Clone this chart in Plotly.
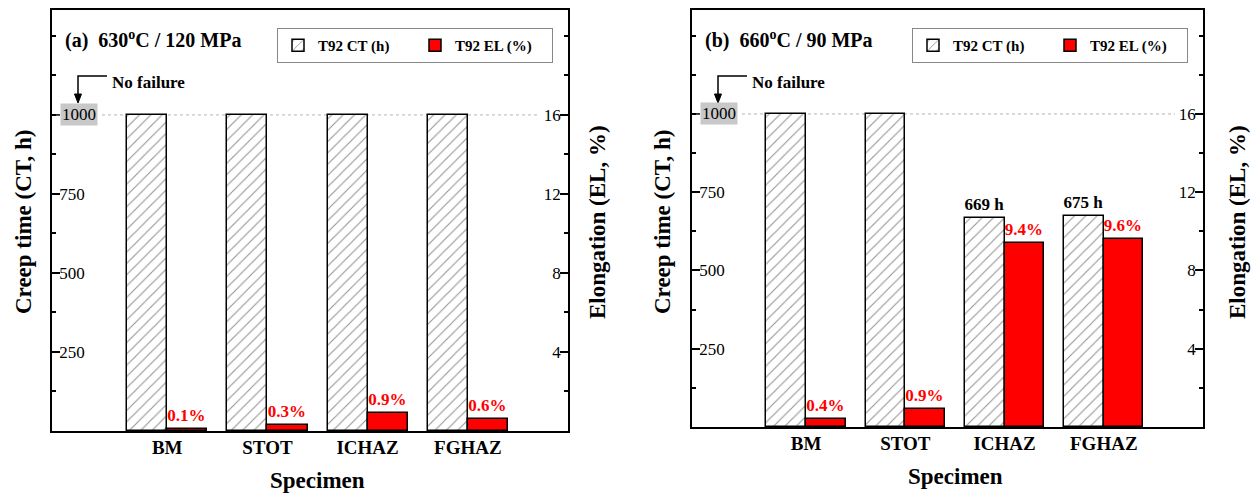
import plotly.graph_objects as go

# ---------------- data ----------------
specimens = ["BM", "STOT", "ICHAZ", "FGHAZ"]
ct_a = [1000, 1000, 1000, 1000]          # creep time (h), 630 C / 120 MPa
el_a = [0.1, 0.3, 0.9, 0.6]              # elongation (%), 630 C / 120 MPa
ct_b = [1000, 1000, 669, 675]            # creep time (h), 660 C / 90 MPa
el_b = [0.4, 0.9, 9.4, 9.6]              # elongation (%), 660 C / 90 MPa
ct_ticks = [250, 500, 750]
el_ticks = [4, 8, 12, 16]
panel_titles = ["(a)\u00a0\u00a0630<sup>o</sup>C / 120 MPa",
                "(b)\u00a0\u00a0660<sup>o</sup>C / 90 MPa"]
no_failure_level = 1000

# ---------------- styling ----------------
W, H = 1252, 493
SERIF = "Liberation Serif"
CT_MAX = 1332
EL_MAX = CT_MAX * 16 / 1000

def px(x):
    return x / W

def py(y):
    return 1 - y / H

# panel geometry in pixels: left, right, top, bottom
panels = [(52, 568, 10, 431), (692, 1203, 10, 427)]

fig = go.Figure()

datasets = [(ct_a, el_a), (ct_b, el_b)]
for i, ((ct, el), (l, r, t, b)) in enumerate(zip(datasets, panels)):
    xa = "x" if i == 0 else "x2"
    ya_ct = "y" if i == 0 else "y3"
    ya_el = "y2" if i == 0 else "y4"
    leg = "legend" if i == 0 else "legend2"
    ct_text = [f"{v:.0f} h" if v < no_failure_level else None for v in ct]
    el_text = [f"{v:.1f}%" for v in el]
    ct_kwargs = {}
    if any(s is not None for s in ct_text):
        ct_kwargs = dict(text=ct_text, textposition="outside", constraintext="none",
                         textfont=dict(family=SERIF, size=17, color="black",
                                       weight="bold"))
    fig.add_trace(go.Bar(
        x=specimens, y=ct, xaxis=xa, yaxis=ya_ct, name="T92 CT (h)",
        offset=-0.4, width=0.4, legend=leg,
        marker=dict(color="white", line=dict(color="black", width=1.5),
                    pattern=dict(shape="/", fgcolor="#2a2a2a", bgcolor="white",
                                 size=8, solidity=0.14)),
        cliponaxis=False, **ct_kwargs,
    ))
    fig.add_trace(go.Bar(
        x=specimens, y=el, xaxis=xa, yaxis=ya_el, name="T92 EL (%)",
        offset=0, width=0.4, legend=leg,
        marker=dict(color="#ff0000", line=dict(color="black", width=1.5)),
        text=el_text, textposition="outside", constraintext="none",
        textfont=dict(family=SERIF, size=17, color="#ff0000", weight="bold"),
        cliponaxis=False,
    ))

axis_common = dict(showline=True, linecolor="black", linewidth=1.5,
                   showgrid=False, zeroline=False)

layout = dict(
    width=W, height=H, margin=dict(l=0, r=0, t=0, b=0),
    paper_bgcolor="white", plot_bgcolor="white",
    barmode="overlay", bargap=0,
    font=dict(family=SERIF, color="black"),
    showlegend=True,
)

for i, (l, r, t, b) in enumerate(panels):
    xk = "xaxis" if i == 0 else "xaxis2"
    yk_ct = "yaxis" if i == 0 else "yaxis3"
    yk_el = "yaxis2" if i == 0 else "yaxis4"
    yname_ct = "y" if i == 0 else "y3"
    xname = "x" if i == 0 else "x2"
    layout[xk] = dict(
        axis_common, domain=[px(l), px(r)], anchor=yname_ct, mirror=True,
        range=[-1.15, 4.0], ticks="", type="category",
        tickfont=dict(family=SERIF, size=19, color="black", weight="bold"),
        ticklabelstandoff=-2,
    )
    layout[yk_ct] = dict(
        axis_common, domain=[py(b), py(t)], anchor=xname, range=[0, CT_MAX],
        tickmode="array", tickvals=ct_ticks, ticktext=[str(v) for v in ct_ticks],
        ticks="inside", ticklen=8, tickwidth=1.5, tickcolor="black",
        ticklabelposition="inside",
        tickfont=dict(family=SERIF, size=17, color="black"),
        minor=dict(ticks="inside", ticklen=4, tickwidth=1.5, tickcolor="black",
                   tickmode="linear", tick0=0, dtick=125),
    )
    layout[yk_el] = dict(
        axis_common, overlaying=yname_ct, side="right", anchor=xname,
        range=[0, EL_MAX],
        tickmode="array", tickvals=el_ticks, ticktext=[str(v) for v in el_ticks],
        ticks="inside", ticklen=8, tickwidth=1.5, tickcolor="black",
        ticklabelposition="inside",
        tickfont=dict(family=SERIF, size=17, color="black"),
        minor=dict(ticks="inside", ticklen=4, tickwidth=1.5, tickcolor="black",
                   tickmode="linear", tick0=0, dtick=2),
    )
    lk = "legend" if i == 0 else "legend2"
    layout[lk] = dict(
        x=px(r - 15), xanchor="right", y=py(28), yanchor="top",
        orientation="h", bgcolor="white", bordercolor="#888888", borderwidth=1,
        font=dict(family=SERIF, size=15, color="black", weight="bold"),
        entrywidth=92, entrywidthmode="pixels", tracegroupgap=0,
    )

fig.update_layout(**layout)

annotations = []
shapes = []
for i, (l, r, t, b) in enumerate(panels):
    xname = "x" if i == 0 else "x2"
    yname = "y" if i == 0 else "y3"
    wpx = r - l
    # panel title
    annotations.append(dict(
        xref="paper", yref="paper", x=px(l + 11), y=py(39), xanchor="left",
        yanchor="middle", showarrow=False, text=panel_titles[i],
        font=dict(family=SERIF, size=20, color="black", weight="bold")))
    # major tick + highlighted label at the "no failure" level
    shapes.append(dict(
        type="line", xref=f"{xname} domain", yref=yname,
        x0=0, x1=8 / wpx, y0=no_failure_level, y1=no_failure_level,
        line=dict(color="black", width=1.5)))
    annotations.append(dict(
        xref=f"{xname} domain", yref=yname, x=0, xshift=8, y=no_failure_level,
        xanchor="left", yanchor="middle", showarrow=False,
        text=str(no_failure_level), bgcolor="#c8c8c8", borderpad=1,
        font=dict(family=SERIF, size=17, color="black")))
    # dotted reference line
    shapes.append(dict(
        type="line", xref=f"{xname} domain", yref=yname,
        x0=50 / wpx, x1=(wpx - 28) / wpx, y0=no_failure_level, y1=no_failure_level,
        line=dict(color="#b5b5b5", width=1, dash="dot"), layer="below"))
    # "No failure" bent arrow (paper-pixel decoration)
    ax_x = l + 26
    shapes.append(dict(
        type="path", xref="paper", yref="paper",
        path=(f"M {px(ax_x + 29)} {py(76)} L {px(ax_x)} {py(76)} "
              f"L {px(ax_x)} {py(95)}"),
        line=dict(color="black", width=1.5)))
    shapes.append(dict(
        type="path", xref="paper", yref="paper",
        path=(f"M {px(ax_x - 3.5)} {py(94)} L {px(ax_x + 3.5)} {py(94)} "
              f"L {px(ax_x)} {py(103)} Z"),
        fillcolor="black", line=dict(color="black", width=1)))
    annotations.append(dict(
        xref="paper", yref="paper", x=px(ax_x + 32), y=py(83), xanchor="left",
        yanchor="middle", showarrow=False, text="No failure",
        font=dict(family=SERIF, size=17, color="black", weight="bold")))

# axis titles
title_font = dict(family=SERIF, size=23, color="black", weight="bold")
for xc in (23, 662):
    annotations.append(dict(xref="paper", yref="paper", x=px(xc), y=py(222),
                            xanchor="center", yanchor="middle", showarrow=False,
                            textangle=-90, text="Creep time (CT, h)", font=title_font))
for xc in (597, 1237):
    annotations.append(dict(xref="paper", yref="paper", x=px(xc), y=py(222),
                            xanchor="center", yanchor="middle", showarrow=False,
                            textangle=-90, text="Elongation (EL, %)", font=title_font))
for xc, yc in ((317, 480), (955, 476)):
    annotations.append(dict(xref="paper", yref="paper", x=px(xc), y=py(yc),
                            xanchor="center", yanchor="middle", showarrow=False,
                            text="Specimen", font=title_font))

fig.update_layout(annotations=annotations, shapes=shapes)

fig.write_html("out.html")
